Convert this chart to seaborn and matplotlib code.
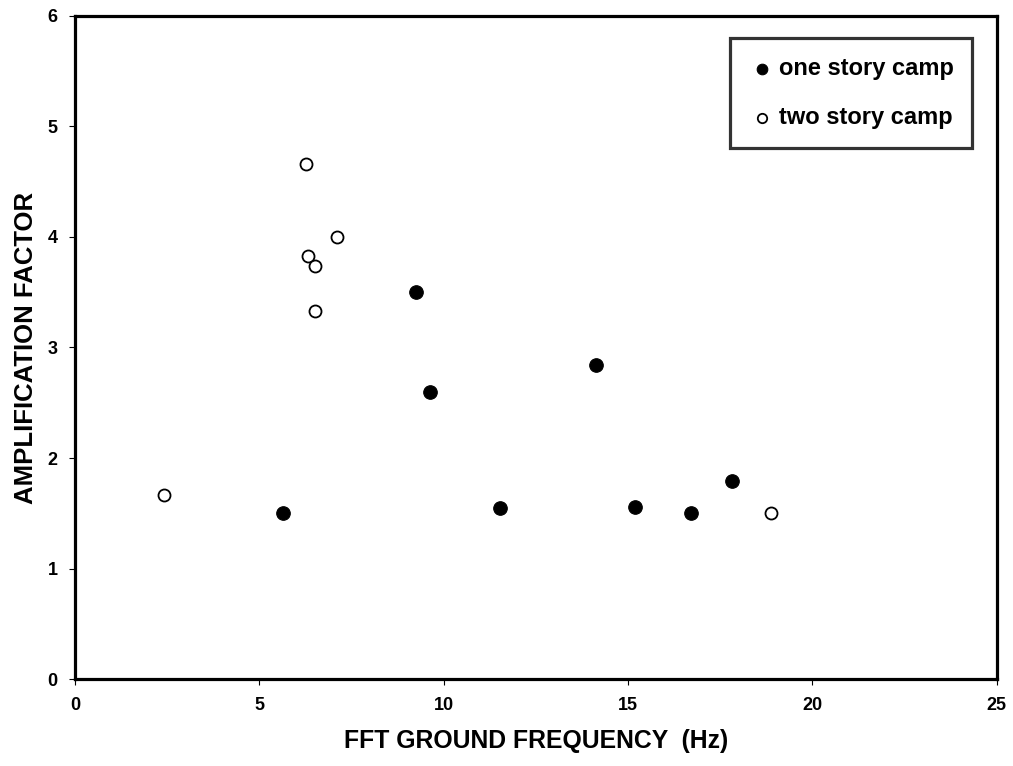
import pandas as pd
import matplotlib
matplotlib.use("Agg")
import matplotlib.pyplot as plt
import seaborn as sns

# valores
freq_um_andar = [5.64, 9.26, 9.64, 11.52, 14.14, 15.20, 16.71, 17.82]
amp_um_andar = [1.50, 3.50, 2.60, 1.55, 2.84, 1.56, 1.50, 1.79]

freq_dois_andares = [6.26, 7.12, 6.32, 6.51, 6.51, 2.42, 18.89]
amp_dois_andares = [4.66, 4.00, 3.83, 3.74, 3.33, 1.67, 1.50]

rotulos = ['one story camp', 'two story camp']
ticks_x = [0, 5, 10, 15, 20, 25]
ticks_y = [0, 1, 2, 3, 4, 5, 6]

df = pd.concat([
    pd.DataFrame({'freq': freq_um_andar, 'amp': amp_um_andar, 'tipo': rotulos[0]}),
    pd.DataFrame({'freq': freq_dois_andares, 'amp': amp_dois_andares, 'tipo': rotulos[1]}),
], ignore_index=True)

sns.set_theme(style="ticks")
plt.rcParams['font.family'] = ['Liberation Sans', 'DejaVu Sans']
plt.rcParams['font.weight'] = 'bold'
plt.rcParams['text.color'] = 'black'
plt.rcParams['axes.labelcolor'] = 'black'
plt.rcParams['xtick.color'] = 'black'
plt.rcParams['ytick.color'] = 'black'
plt.rcParams['axes.edgecolor'] = 'black'
plt.rcParams['legend.edgecolor'] = 'black'

fig = plt.figure(figsize=(10.13, 7.66), dpi=100)
ax = fig.add_axes([0.0740, 0.1132, 0.9099, 0.8663])

# --- pontos cheios e vazios ---
sns.scatterplot(data=df[df['tipo'] == rotulos[0]], x='freq', y='amp', ax=ax,
                s=95, color='black', edgecolor='black', linewidth=0.8,
                label=rotulos[0], zorder=3)
sns.scatterplot(data=df[df['tipo'] == rotulos[1]], x='freq', y='amp', ax=ax,
                s=75, facecolor='white', edgecolor='black', linewidth=1.3,
                label=rotulos[1], zorder=3)

ax.set_xlim(0, 25)
ax.set_ylim(0, 6)
ax.set_xticks(ticks_x)
ax.set_yticks(ticks_y)

for lado in ['top', 'bottom', 'left', 'right']:
    ax.spines[lado].set_visible(True)
    ax.spines[lado].set_color('black')
    ax.spines[lado].set_linewidth(2.3)

ax.tick_params(axis='both', direction='out', length=4.5, width=0.8,
               color='black', labelsize=13, labelcolor='black')
ax.tick_params(axis='x', pad=8)
ax.tick_params(axis='y', pad=8)
for t in ax.get_xticklabels() + ax.get_yticklabels():
    t.set_fontweight('bold')

ax.set_xlabel('FFT GROUND FREQUENCY  (Hz)', fontsize=17.8, fontweight='bold',
              color='black', labelpad=11)
ax.set_ylabel('AMPLIFICATION FACTOR', fontsize=18.5, fontweight='bold',
              color='black', labelpad=7)
ax.grid(False)

leg = ax.legend(loc='upper right', bbox_to_anchor=(0.960, 0.950),
                bbox_transform=fig.transFigure, frameon=True, fancybox=False,
                edgecolor='black', fontsize=17, markerscale=0.78,
                handlelength=1.1, handletextpad=0.15, borderpad=0.8,
                labelspacing=1.1, borderaxespad=0)
leg.get_frame().set_linewidth(2.3)
leg.get_frame().set_edgecolor('black')
for txt in leg.get_texts():
    txt.set_fontweight('bold')
    txt.set_color('black')

plt.savefig('out.png', dpi=100)
